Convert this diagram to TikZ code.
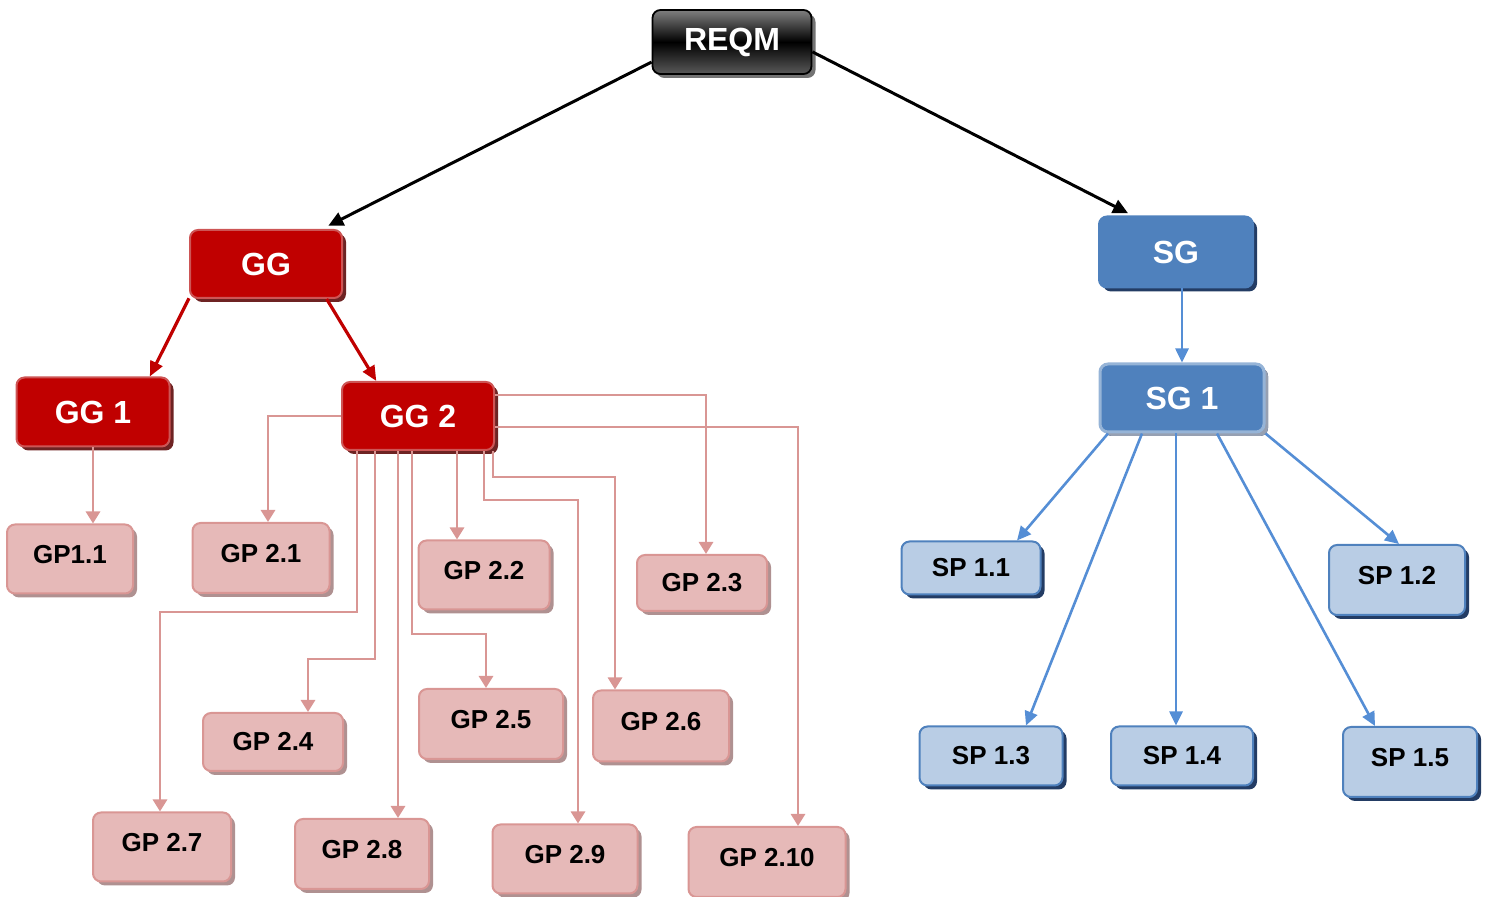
\documentclass[tikz,border=0pt]{standalone}
\usepackage{fontspec}
\setmainfont{Liberation Sans}
\usetikzlibrary{arrows.meta,shadows}

\definecolor{ggred}{RGB}{192,0,0}
\definecolor{ggedge}{RGB}{205,85,85}
\definecolor{ggshade}{RGB}{110,35,35}
\definecolor{gpfill}{RGB}{230,185,184}
\definecolor{gpedge}{RGB}{217,150,148}
\definecolor{gpshade}{RGB}{175,145,145}
\definecolor{sgblue}{RGB}{79,129,189}
\definecolor{sgshade}{RGB}{35,60,100}
\definecolor{sgedge}{RGB}{150,180,215}
\definecolor{sglight}{RGB}{150,160,178}
\definecolor{spfill}{RGB}{185,205,229}
\definecolor{sparrow}{RGB}{85,142,213}

\tikzset{
  every picture/.style={line width=0.75pt},
  boxsize/.style 2 args={minimum width=#1, minimum height=#2},
  basebox/.style={rectangle, rounded corners=4pt, inner sep=0pt, font=\bfseries},
  tallbox/.style={text height=0.72em, text depth=0.3em},
  topbox/.style={basebox, draw=black, line width=0.9pt, top color=black!50, bottom color=black!65, middle color=black,
    text=white, font=\bfseries\fontsize{16}{19}\selectfont,
    drop shadow={shadow xshift=2pt, shadow yshift=-2pt, opacity=1, fill=black!55}},
  ggbox/.style={basebox, draw=ggedge, line width=1pt, fill=ggred, text=white, font=\bfseries\fontsize{16}{19}\selectfont,
    drop shadow={shadow xshift=2pt, shadow yshift=-2pt, opacity=1, fill=ggshade}},
  gpbox/.style={basebox, draw=gpedge, line width=1pt, fill=gpfill, text=black, font=\bfseries\fontsize{13}{16}\selectfont,
    drop shadow={shadow xshift=2pt, shadow yshift=-2pt, opacity=1, fill=gpshade}},
  sgbox/.style={basebox, draw=sgblue, line width=1pt, fill=sgblue, text=white, font=\bfseries\fontsize{16}{19}\selectfont,
    drop shadow={shadow xshift=2pt, shadow yshift=-2pt, opacity=1, fill=sgshade}},
  sgonebox/.style={sgbox, draw=sgedge, line width=1.5pt,
    drop shadow={shadow xshift=2pt, shadow yshift=-2pt, opacity=1, fill=sglight}},
  spbox/.style={basebox, draw=sgblue, line width=1pt, fill=spfill, text=black, font=\bfseries\fontsize{13}{16}\selectfont,
    drop shadow={shadow xshift=2pt, shadow yshift=-2pt, opacity=1, fill=sgshade}},
  toparrow/.style={line width=1.5pt, -{Triangle[length=7.5pt,width=7pt]}},
  ggarrow/.style={draw=ggred, line width=1.6pt, -{Triangle[length=7.5pt,width=6.5pt]}},
  gparrow/.style={draw=gpedge, line width=1.4pt, -{Triangle[length=6pt,width=7pt]}},
  sparrow/.style={draw=sparrow, line width=1.3pt, -{Triangle[length=7pt,width=6.5pt]}},
}

\begin{document}
\begin{tikzpicture}[x=0.5pt,y=0.5pt,yscale=-1,xscale=1]
\useasboundingbox (0,0) rectangle (1485,897);

% top
\node[topbox, boxsize={79.5pt}{32pt}] (reqm) at (732,42) {REQM};

% generic goals
\node[ggbox, boxsize={76pt}{34pt}] (gg) at (266,264) {GG};
\node[ggbox, boxsize={76.5pt}{34.5pt}] (gg1) at (93,412) {GG 1};
\node[ggbox, boxsize={76pt}{34pt}] (gg2) at (418,416) {GG 2};

% generic practices
\node[gpbox, tallbox, boxsize={63pt}{34.5pt}] (gp11) at (70,559) {GP1.1};
\node[gpbox, tallbox, boxsize={68.5pt}{35pt}] (gp21) at (261,558) {GP 2.1};
\node[gpbox, tallbox, boxsize={65.5pt}{34.5pt}] (gp22) at (484,575) {GP 2.2};
\node[gpbox, boxsize={65pt}{28pt}] (gp23) at (702,583) {GP 2.3};
\node[gpbox, boxsize={70pt}{29pt}] (gp24) at (273,742) {GP 2.4};
\node[gpbox, tallbox, boxsize={72pt}{35pt}] (gp25) at (491,724) {GP 2.5};
\node[gpbox, tallbox, boxsize={68pt}{35.5pt}] (gp26) at (661,726) {GP 2.6};
\node[gpbox, tallbox, boxsize={69pt}{34.5pt}] (gp27) at (162,847) {GP 2.7};
\node[gpbox, tallbox, boxsize={67pt}{35pt}] (gp28) at (362,854) {GP 2.8};
\node[gpbox, tallbox, boxsize={72.5pt}{34.5pt}] (gp29) at (565,859) {GP 2.9};
\node[gpbox, tallbox, boxsize={78.5pt}{35pt}] (gp210) at (767,862) {GP 2.10};

% specific goals
\node[sgbox, boxsize={77pt}{35.5pt}] (sg) at (1176,252) {SG};
\node[sgonebox, boxsize={82pt}{34pt}] (sg1) at (1182,398) {SG 1};

% specific practices
\node[spbox, boxsize={69.5pt}{26.5pt}] (sp11) at (971,568) {SP 1.1};
\node[spbox, tallbox, boxsize={68pt}{35pt}] (sp12) at (1397,580) {SP 1.2};
\node[spbox, boxsize={71.5pt}{29.5pt}] (sp13) at (991,756) {SP 1.3};
\node[spbox, boxsize={71pt}{29.5pt}] (sp14) at (1182,756) {SP 1.4};
\node[spbox, tallbox, boxsize={67pt}{35pt}] (sp15) at (1410,762) {SP 1.5};

% REQM links
\draw[toparrow, shorten >=3.5pt] (reqm.194) -- (gg.32);
\draw[toparrow, shorten >=2.5pt] (reqm.353) -- (sg.140);

% GG links
\draw[ggarrow] (gg.204) -- (gg1.32);
\draw[ggarrow] (gg.330) -- (gg2.140);

% GP links
\draw[gparrow] (gg1.south) -- ([xshift=11.5pt]gp11.north);
\draw[gparrow] (gg2.west) -| ([xshift=3.5pt]gp21.north);
\draw[gparrow] ([xshift=19.5pt]gg2.south) -- ([xshift=-13.5pt]gp22.north);
\draw[gparrow] (gg2.east) ++(0,-21) -| ([xshift=2pt]gp23.north);
\draw[gparrow] (gg2.south) ++(-43,0) -- ++(0,208) -| ([xshift=17.5pt]gp24.north);
\draw[gparrow] (gg2.south) ++(-6,0) -- ++(0,183) -| ([xshift=-2.5pt]gp25.north);
\draw[gparrow] (gg2.south) ++(75,0) -- ++(0,26) -| ([xshift=-23pt]gp26.north);
\draw[gparrow] (gg2.south) ++(-61,0) -- ++(0,161) -| ([xshift=-1pt]gp27.north);
\draw[gparrow] ([xshift=-10pt]gg2.south) -- ([xshift=18pt]gp28.north);
\draw[gparrow] (gg2.south) ++(66,0) -- ++(0,49) -| ([xshift=6.5pt]gp29.north);
\draw[gparrow] (gg2.east) ++(0,11) -| ([xshift=15.5pt]gp210.north);

% SG links
\draw[sparrow] (sg1.north |- sg.south) -- (sg1.north);
\draw[sparrow] ([xshift=-37pt]sg1.south) -- ([xshift=23pt]sp11.north);
\draw[sparrow] (sg1.south east) -- ([xshift=1pt]sp12.north);
\draw[sparrow] ([xshift=-20pt]sg1.south) -- ([xshift=17.5pt]sp13.north);
\draw[sparrow] ([xshift=-3pt]sg1.south) -- ([xshift=-3pt]sp14.north);
\draw[sparrow] ([xshift=17.5pt]sg1.south) -- ([xshift=-17.5pt]sp15.north);

\end{tikzpicture}
\end{document}
